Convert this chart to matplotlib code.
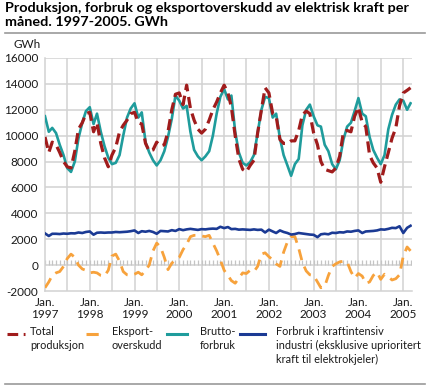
import matplotlib
matplotlib.use("Agg")
import matplotlib.pyplot as plt
from matplotlib.lines import Line2D
import numpy as np
import pandas as pd

plt.rcParams["font.family"] = ["Lato", "DejaVu Sans"]

# monthly values, Jan 1997 - Mar 2005 (GWh)
produksjon = [
    9900, 8700, 9500, 9300, 8700, 8000, 7600, 7500, 8800, 10500, 11000, 11700,
    11800, 10300, 11000, 9400, 8300, 7600, 8500, 9100, 10300, 10800, 11200, 11700,
    11800, 11000, 10900, 9400, 8800, 8900, 9500, 9200, 9300, 10300, 12000, 13200,
    13300, 12400, 13900, 12100, 11200, 10500, 10200, 10500, 11200, 12000, 12600, 13300,
    13900, 13300, 12200, 10000, 8200, 7400, 7200, 7700, 8100, 10200, 12000, 13700,
    13300, 11700, 11500, 9700, 9400, 9400, 9600, 9600, 10400, 11600, 11900, 11700,
    10200, 9300, 8000, 7400, 7300, 7200, 7500, 8400, 10300, 10400, 10300, 11500,
    12200, 11000, 10700, 8500, 7900, 7500, 6400, 7600, 8700, 9800, 10600, 12300,
    13300, 13500, 13700,
]
eksportoverskudd = [
    -1750, -1300, -800, -600, -500, -100, 500, 850, 600, 0, -300, -400,
    -600, -550, -600, -800, -850, -400, 700, 850, 300, -500, -750, -800,
    -700, -550, -750, -400, 0, 1100, 1700, 1400, 600, -350, 150, 400,
    600, 1200, 1600, 2200, 2300, 2300, 2250, 2200, 2300, 1700, 1100, 400,
    -400, -800, -1200, -1400, -1000, -600, -650, -400, -500, -100, 850, 950,
    650, 400, 100, -100, 1000, 1800, 2200, 2200, 1300, 200, -450, -750,
    -800, -1300, -1750, -1650, -800, -100, 100, 250, 300, 250, -500, -1000,
    -650, -850, -1400, -1300, -800, -550, -1100, -700, -900, -1150, -1050, -750,
    700, 1400, 1100,
]
bruttoforbruk = [
    11500, 10300, 10600, 10200, 9300, 8500, 7500, 7200, 8000, 9800, 11000, 11900,
    12200, 10900, 11700, 10300, 9200, 8300, 7800, 7900, 8500, 10000, 11400, 12100,
    12500, 11400, 11800, 9500, 8700, 8100, 7700, 8100, 8800, 9900, 11300, 13100,
    12700, 12100, 12300, 10300, 8900, 8400, 8100, 8400, 8800, 10000, 11700, 13000,
    13600, 12800, 13100, 10300, 8700, 7900, 7700, 7950, 8500, 10200, 12000, 13000,
    12900, 11400, 11700, 9800, 8500, 7700, 6900, 7800, 8200, 10800, 12000, 12400,
    11500, 10800, 10700, 9300, 8800, 7800, 7400, 8100, 9700, 10700, 11000, 11900,
    12900, 11700, 11500, 9900, 8900, 8300, 7800, 8500, 10500, 11600, 12400, 12800,
    12700, 12000, 12500,
]
kraftintensiv = [
    2450, 2250, 2420, 2420, 2400, 2440, 2420, 2460, 2450, 2520, 2480, 2560,
    2600, 2350, 2500, 2520, 2500, 2520, 2520, 2560, 2540, 2560, 2580, 2620,
    2680, 2480, 2620, 2580, 2640, 2560, 2420, 2640, 2620, 2600, 2700, 2640,
    2780, 2700, 2760, 2800, 2760, 2720, 2780, 2760, 2800, 2820, 2800, 2960,
    2860, 2940, 2780, 2800, 2740, 2760, 2740, 2720, 2760, 2720, 2740, 2520,
    2740, 2600, 2480, 2680, 2560, 2480, 2360, 2400, 2480, 2440, 2400, 2360,
    2340, 2160, 2380, 2420, 2380, 2500, 2480, 2540, 2520, 2600, 2580, 2640,
    2680, 2480, 2600, 2620, 2640, 2680, 2760, 2740, 2800, 2880, 2860, 3000,
    2480, 2880, 3040,
]
years = list(range(1997, 2006))

dates = pd.date_range("1997-01-01", periods=len(produksjon), freq="MS")

W, H = 430, 386
fig = plt.figure(figsize=(W / 100, H / 100), dpi=100)
ax = fig.add_axes([45 / W, 1 - 291 / H, (412 - 45) / W, (291 - 58) / H])

grid_c = "#d2d2d2"
c_red, c_orange, c_teal, c_blue = "#a01c1c", "#f7a23c", "#1f9c9c", "#1b3a94"
txt_c = "#1a1a1a"

# gridlines every half year and every 2000 GWh
half_years = pd.date_range("1997-07-01", "2005-01-01", freq="6MS")
for d in half_years:
    ax.axvline(d, color=grid_c, lw=1.1, zorder=0)
for v in range(0, 16001, 2000):
    if v != 0:
        ax.axhline(v, color=grid_c, lw=1.1, zorder=0)
# zero line with monthly tick marks
ax.axhline(0, color=grid_c, lw=1.1, zorder=0)
ax.vlines(dates, 0, 380, color="#c4c4c4", lw=0.9, zorder=0)

ax.plot(dates, eksportoverskudd, color=c_orange, lw=2.0, dashes=(4, 2.5), zorder=3)
ax.plot(dates, bruttoforbruk, color=c_teal, lw=1.9, zorder=3)
ax.plot(dates, kraftintensiv, color=c_blue, lw=1.9, zorder=3)
ax.plot(dates, produksjon, color=c_red, lw=2.3, dashes=(3.5, 1.8), zorder=4)

ax.set_xlim(pd.Timestamp("1997-01-01"), pd.Timestamp("2005-03-13"))
ax.set_ylim(-2000, 16000)
ax.set_yticks(range(-2000, 16001, 2000))
ax.set_yticklabels([str(v) for v in range(-2000, 16001, 2000)])
ax.set_xticks([pd.Timestamp(f"{y}-01-01") for y in years])
ax.set_xticklabels([f"Jan.\n{y}" for y in years])
ax.tick_params(length=0, labelsize=8.5, colors=txt_c, pad=5)
ax.tick_params(axis="x", pad=4)
for lab in ax.get_xticklabels():
    lab.set_linespacing(1.2)
for s in ["top", "right"]:
    ax.spines[s].set_visible(False)
for s in ["left", "bottom"]:
    ax.spines[s].set_color(grid_c)
    ax.spines[s].set_linewidth(1.1)

fig.text(14 / W, 1 - 45 / H, "GWh", fontsize=8.5, va="center", color=txt_c)
fig.text(5 / W, 1 - 2 / H,
         "Produksjon, forbruk og eksportoverskudd av elektrisk kraft per\nmåned. 1997-2005. GWh",
         fontsize=10.4, fontweight="bold", va="top", ha="left", linespacing=1.15)
fig.add_artist(Line2D([5 / W, 425 / W], [1 - 33 / H] * 2, color="#9a9a9a", lw=1.2))
fig.add_artist(Line2D([5 / W, 425 / W], [1 - 384 / H] * 2, color="#9a9a9a", lw=1.2))

# legend
legend_items = [
    (7, 25, c_red, (3.5, 1.8), 30, "Total\nproduksjon"),
    (86, 103, c_orange, (4, 2.5), 112, "Eksport-\noverskudd"),
    (167, 187, c_teal, None, 200, "Brutto-\nforbruk"),
    (240, 265, c_blue, None, 276, "Forbruk i kraftintensiv\nindustri (eksklusive uprioritert\nkraft til elektrokjeler)"),
]
for x0, x1, col, dash, tx, label in legend_items:
    ln = Line2D([x0 / W, x1 / W], [1 - 334 / H] * 2, color=col, lw=2.2)
    if dash:
        ln.set_dashes(dash)
    fig.add_artist(ln)
    fig.text(tx / W, 1 - 326 / H, label, fontsize=7.9, va="top", ha="left",
             color=txt_c, linespacing=1.35)

fig.savefig("out.png", dpi=100)
